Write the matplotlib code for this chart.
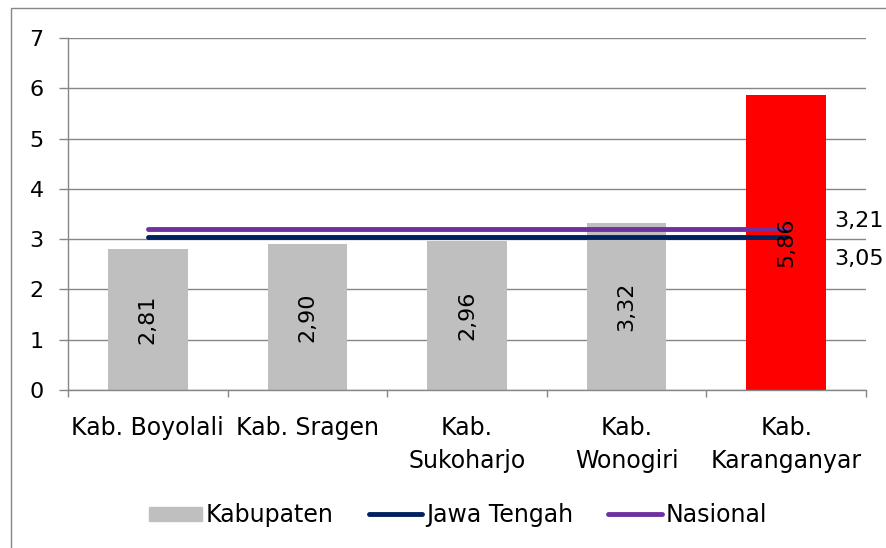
import matplotlib
matplotlib.use("Agg")
import matplotlib.pyplot as plt
from matplotlib.patches import Rectangle
from matplotlib.lines import Line2D

categories = ["Kab. Boyolali", "Kab. Sragen", "Kab.\nSukoharjo", "Kab.\nWonogiri", "Kab.\nKaranganyar"]
values = [2.81, 2.90, 2.96, 3.32, 5.86]
value_labels = ["2,81", "2,90", "2,96", "3,32", "5,86"]
jateng = 3.05
nasional = 3.21
jateng_label = "3,05"
nasional_label = "3,21"
bar_colors = ["#bfbfbf", "#bfbfbf", "#bfbfbf", "#bfbfbf", "#ff0000"]

plt.rcParams['font.family'] = ['DejaVu Sans']
fs = 16

fig = plt.figure(figsize=(8.87, 5.48), dpi=100)
# outer border
fig.patches.append(Rectangle((11/887, -0.1), 1.2, 1.1 - 8/548, transform=fig.transFigure,
                             fill=False, edgecolor="#868686", linewidth=1.0))
ax = fig.add_axes([68/887, 1 - 390/548, 798/887, 352/548])

x = list(range(len(categories)))
ax.bar(x, values, width=0.5, color=bar_colors, zorder=2)
for xi, v, lab in zip(x, values, value_labels):
    ax.text(xi, v / 2, lab, rotation=90, ha="center", va="center", fontsize=fs, color="black", zorder=5)

ax.plot([x[0], x[-1]], [jateng, jateng], color="#002060", linewidth=3.5, solid_capstyle="round", zorder=3)
ax.plot([x[0], x[-1]], [nasional, nasional], color="#7030a0", linewidth=3.5, solid_capstyle="round", zorder=3)
xl = 1.0 + (834 - 866) / 798
ax.text(xl, nasional + 0.16, nasional_label, transform=ax.get_yaxis_transform(),
        ha="left", va="center", fontsize=fs)
ax.text(xl, jateng - 0.44, jateng_label, transform=ax.get_yaxis_transform(),
        ha="left", va="center", fontsize=fs)

ax.set_xlim(-0.5, len(categories) - 0.5)
ax.set_ylim(0, 7)
ax.set_yticks(range(0, 8))
ax.yaxis.grid(True, color="#868686", linewidth=1.0, zorder=0)
ax.set_axisbelow(True)
ax.set_xticks([i - 0.5 for i in range(len(categories) + 1)])
ax.set_xticklabels([])
ax.set_xticks(x, minor=True)
ax.set_xticklabels(categories, minor=True, fontsize=17, linespacing=1.45)
ax.tick_params(axis="x", which="minor", length=0, pad=19)
ax.tick_params(axis="x", which="major", length=5, color="#868686", width=1)
ax.tick_params(axis="y", length=6.5, color="#868686", width=1, labelsize=fs, pad=11)
for s in ["top", "right"]:
    ax.spines[s].set_visible(False)
for s in ["left", "bottom"]:
    ax.spines[s].set_color("#868686")
    ax.spines[s].set_linewidth(1.0)

handles = [Rectangle((0, 0), 1, 1, color="#bfbfbf"),
           Line2D([], [], color="#002060", linewidth=3.5, solid_capstyle="round"),
           Line2D([], [], color="#7030a0", linewidth=3.5, solid_capstyle="round")]
fig.legend(handles, ["Kabupaten", "Jawa Tengah", "Nasional"], loc="center",
           bbox_to_anchor=(458/887, 1 - 515/548), ncol=3, frameon=False, fontsize=17,
           handlelength=2.25, handleheight=0.55, handletextpad=0.15, columnspacing=1.5)

fig.savefig("out.png", dpi=100)
